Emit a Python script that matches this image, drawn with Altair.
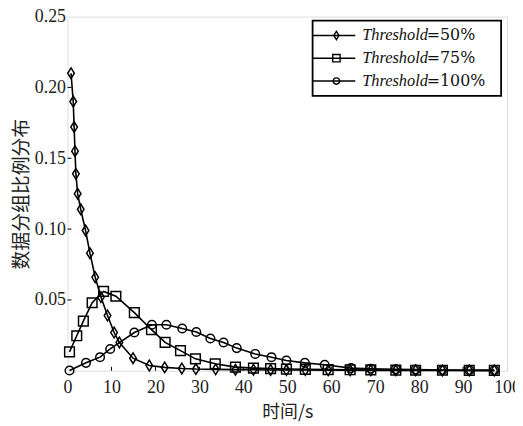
import altair as alt
import pandas as pd

# ---- data ----
series_names = ["Threshold=50%", "Threshold=75%", "Threshold=100%"]
legend_prefix = "Threshold"
legend_suffix = ["=50%", "=75%", "=100%"]

time_50 = [0.8, 1.3, 1.5, 1.7, 1.9, 2.3, 3.0, 4.1, 5.1, 6.3, 7.6, 9.1, 10.6, 11.8, 14.9,
           18.6, 22.1, 26.0, 29.2, 33.7, 38.2, 42.3, 46.2, 49.8, 54.1, 59.3, 64.3, 69.0,
           74.7, 79.2, 85.3, 91.4, 97.1]
ratio_50 = [0.210, 0.190, 0.172, 0.155, 0.139, 0.125, 0.114, 0.099, 0.083, 0.066, 0.052,
            0.039, 0.027, 0.020, 0.0089, 0.0037, 0.0024, 0.0016, 0.0012, 0.0010, 0.0008,
            0.0007, 0.0006, 0.0005, 0.0005, 0.0004, 0.0004, 0.0003, 0.0003, 0.0003,
            0.0002, 0.0002, 0.0002]

time_75 = [0.45, 2.1, 3.6, 5.6, 8.2, 11.0, 15.2, 19.1, 22.2, 25.7, 29.1, 33.6, 38.2, 42.3,
           46.2, 49.8, 54.1, 59.3, 64.3, 69.0, 74.7, 79.2, 85.3, 91.4, 97.1]
ratio_75 = [0.0133, 0.0247, 0.035, 0.048, 0.056, 0.0526, 0.041, 0.029, 0.020, 0.0142,
            0.0084, 0.0049, 0.0026, 0.0019, 0.0015, 0.0012, 0.0010, 0.0008, 0.0007,
            0.0006, 0.0005, 0.0004, 0.0004, 0.0003, 0.0003]

time_100 = [0.45, 4.2, 7.4, 9.7, 15.2, 19.2, 22.5, 26.1, 29.3, 32.5, 35.5, 38.5, 42.7, 46.4,
            49.8, 54.0, 58.5, 64.5, 69.0, 74.7, 79.2, 85.3, 91.4, 97.1]
ratio_100 = [0.0002, 0.0056, 0.0096, 0.0154, 0.027, 0.0325, 0.0325, 0.0298, 0.0274, 0.0228,
             0.020, 0.016, 0.0119, 0.0096, 0.0072, 0.0056, 0.0042, 0.0019, 0.0014, 0.0010,
             0.0008, 0.0006, 0.0004, 0.0003]

x_ticks = [0, 10, 20, 30, 40, 50, 60, 70, 80, 90, 100]
y_ticks = [0.05, 0.10, 0.15, 0.20, 0.25]

# ---- tables ----
rows = []
for name, xs, ys in zip(series_names, [time_50, time_75, time_100],
                        [ratio_50, ratio_75, ratio_100]):
    for i, (a, b) in enumerate(zip(xs, ys)):
        rows.append({"series": name, "t": a, "v": b, "i": i})
df = pd.DataFrame(rows)

W, H = 443, 357
DIAMOND = "M0,-1L0.62,0L0,1L-0.62,0Z"
shapes = [DIAMOND, "square", "circle"]
SERIF = "Liberation Serif"
CJK = "Noto Sans CJK SC"

x_scale = alt.Scale(domain=[0, 100], nice=False)
y_scale = alt.Scale(domain=[0, 0.25], nice=False)

x_enc = alt.X("t:Q", scale=x_scale, axis=alt.Axis(
    values=x_ticks, title="时间/s", ticks=False, domain=False, grid=False,
    labelFont=SERIF, labelFontSize=18, labelColor="#222", labelPadding=8,
    labelFlush=False,
    titleFont=CJK, titleFontSize=18, titleFontWeight="normal", titleColor="#222",
    titlePadding=7))
y_enc = alt.Y("v:Q", scale=y_scale, axis=alt.Axis(
    values=y_ticks, format=".2f", title="数据分组比例分布", ticks=False, domain=False,
    grid=False, labelFont=SERIF, labelFontSize=18, labelColor="#222", labelPadding=2,
    labelFlush=False,
    titleFont=CJK, titleFontSize=19, titleFontWeight="normal", titleColor="#222",
    titlePadding=3))

lines = alt.Chart(df).mark_line(color="black", strokeWidth=1.6).encode(
    x=x_enc, y=y_enc, detail="series:N", order="i:Q")

points = alt.Chart(df).mark_point(filled=False, color="black", strokeWidth=1.5,
                                  opacity=1).encode(
    x="t:Q", y="v:Q",
    shape=alt.Shape("series:N", scale=alt.Scale(domain=series_names, range=shapes),
                    legend=None),
    size=alt.Size("series:N", scale=alt.Scale(domain=series_names, range=[115, 75, 105]),
                  legend=None))

# inner tick marks
xt = pd.DataFrame({"t": x_ticks[1:-1]})
x_tick_marks = alt.Chart(xt).mark_rule(color="black", strokeWidth=1).encode(
    x="t:Q", y=alt.value(H), y2=alt.value(H - 4))
yt = pd.DataFrame({"v": y_ticks[:-1]})
y_tick_marks = alt.Chart(yt).mark_rule(color="black", strokeWidth=1).encode(
    y="v:Q", x=alt.value(0), x2=alt.value(4))

# ---- custom legend (line + marker + mixed-style text) ----
leg = pd.DataFrame({"series": series_names, "suffix": legend_suffix,
                    "prefix": [legend_prefix] * 3, "k": [0, 1, 2]})
leg_base = alt.Chart(leg).transform_calculate(py="19 + datum.k * 23")
py = alt.Y("py:Q", scale=None)

leg_box = alt.Chart(pd.DataFrame({"k": [0]})).mark_rect(
    fill="white", stroke="black", strokeWidth=1.8).encode(
    x=alt.value(247), x2=alt.value(437), y=alt.value(4), y2=alt.value(80))
leg_lines = leg_base.mark_rule(color="black", strokeWidth=1.5).encode(
    x=alt.value(247), x2=alt.value(290), y=py)
leg_pts = leg_base.mark_point(filled=False, color="black", strokeWidth=1.4,
                              opacity=1).encode(
    x=alt.value(271), y=py,
    shape=alt.Shape("series:N", scale=alt.Scale(domain=series_names, range=shapes),
                    legend=None),
    size=alt.Size("series:N", scale=alt.Scale(domain=series_names, range=[70, 40, 55]),
                  legend=None))
leg_pre = leg_base.mark_text(font=SERIF, fontSize=16.5, fontStyle="italic", align="left",
                             baseline="middle", color="#111").encode(
    x=alt.value(297), y=py, text="prefix:N")
leg_suf = leg_base.mark_text(font="DejaVu Serif", fontSize=16, align="left",
                             baseline="middle", color="#111").encode(
    x=alt.value(362), y=py, text="suffix:N")

chart = alt.layer(
    lines, points, x_tick_marks, y_tick_marks,
    leg_box, leg_lines, leg_pts, leg_pre, leg_suf
).resolve_scale(shape="independent", size="independent").properties(
    width=W, height=H,
    autosize=alt.AutoSizeParams(type="none"),
    padding={"left": 60, "top": 7, "right": 8, "bottom": 52},
).configure_view(stroke="black", strokeWidth=2).configure(background="white")

chart.save("out.html", embed_options={"renderer": "svg", "actions": False})
